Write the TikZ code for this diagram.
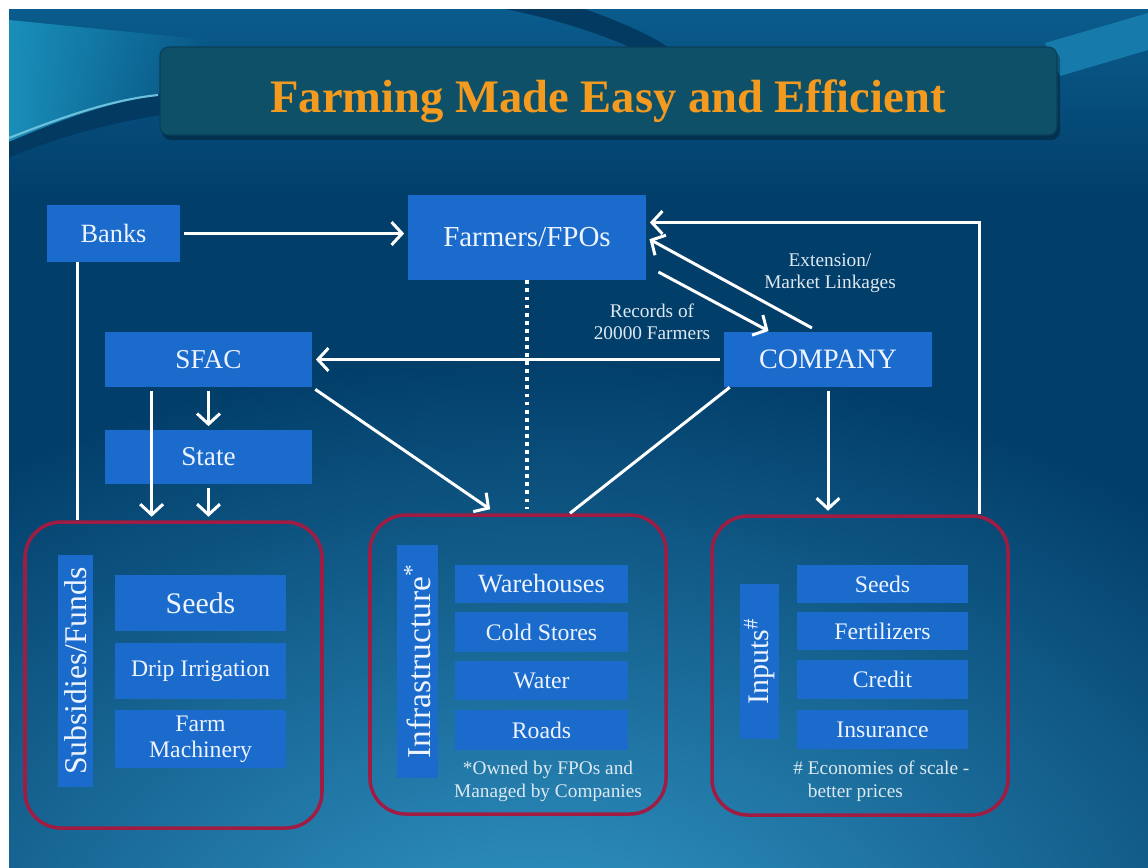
\documentclass[tikz,border=0pt]{standalone}
\usepackage{fontspec}
\setmainfont{Liberation Serif}
\usetikzlibrary{arrows.meta,fit,calc,fadings}
\definecolor{bgdark}{HTML}{023E6A}
\definecolor{bgtop}{HTML}{0A5C8C}
\definecolor{bglight}{HTML}{3399C9}
\definecolor{boxblue}{HTML}{1A6BCC}
\definecolor{titlefill}{HTML}{0E5068}
\definecolor{titleedge}{HTML}{0A3F58}
\definecolor{grpred}{HTML}{A01C42}
\definecolor{txtw}{HTML}{EEF4FF}
\definecolor{lbl}{HTML}{DCE8F2}
\definecolor{orng}{HTML}{F39A1F}
\definecolor{cyanlt}{HTML}{1A8FBA}
\definecolor{stripe}{HTML}{167AAB}
\definecolor{swoosh}{HTML}{033A62}
\definecolor{lineglow}{HTML}{6CC0DC}
% box by corners: name, x1, y1, x2, y2, font, text
\newcommand\cornerbox[7]{\node[blk, minimum width={0.02cm*(#4-#2)}, minimum height={0.02cm*(#5-#3)}, font=#6] (#1) at ({(#2+#4)/2},{(#3+#5)/2}) {#7};}
\newcommand\fsz[1]{\fontsize{#1}{#1}\selectfont}
\begin{document}
\begin{tikzpicture}[x=0.02cm,y=-0.02cm,
  blk/.style={fill=boxblue, inner sep=0pt, text=txtw, align=center},
  grp/.style={draw=grpred, line width=2pt, rounded corners=0.72cm, inner sep=0pt},
  vtxt/.style={rotate=90, text=txtw, inner sep=0pt},
  lbltxt/.style={text=lbl, align=center, font=\fontsize{11}{12.5}\selectfont, inner sep=0pt},
  tip/.style={-{Straight Barb[length=6pt,width=13pt]}},
  arr/.style={draw=white, line width=1.7pt, shorten <=2pt, shorten >=2pt, tip},
  ln/.style={draw=white, line width=1.7pt},
  dotln/.style={draw=white, line width=2.2pt, dash pattern=on 2.2pt off 2.4pt},
]
\useasboundingbox (0,0) rectangle (1148,867);
\fill[white] (0,0) rectangle (1148,867);
% background
\begin{scope}
\clip (9,9) rectangle (1148,867);
\fill[bgdark] (9,9) rectangle (1148,867);
\shade[inner color=bglight, outer color=bgdark] (540,980) ellipse (19cm and 12.5cm);
\shade[top color=bgtop, bottom color=bgdark] (9,9) rectangle (1148,200);
\fill[cyanlt, path fading=east] (9,20) -- (210,40) -- (210,80) .. controls (130,100) and (60,120) .. (9,142) -- cycle;
\fill[swoosh] (9,142) .. controls (60,120) and (110,102) .. (160,95) -- (160,115) .. controls (100,125) and (50,140) .. (9,158) -- cycle;
\draw[lineglow, line width=1.2pt] (9,138) .. controls (60,118) and (110,100) .. (158,95);
\fill[stripe] (1045,43) -- (1148,13) -- (1148,50) -- (1060,76) -- cycle;
\fill[swoosh] (505,9) -- (585,9) .. controls (615,20) and (645,32) .. (668,47) -- (630,47) .. controls (590,30) and (550,18) .. (505,9) -- cycle;
\end{scope}
% title
\fill[black, opacity=0.3, rounded corners=5pt] (162,51) rectangle (1060,140);
\node[fill=titlefill, draw=titleedge, line width=0.6pt, rounded corners=5pt, inner sep=0pt, fit={(160,47)(1057,135)}] (title) {};
\node[text=orng, anchor=base, inner sep=0pt, font=\fontsize{26.5}{30}\selectfont\bfseries] (titletxt) at (608,112) {Farming Made Easy and Efficient};
% top boxes
\cornerbox{banks}{47}{205}{180}{262}{\fsz{15}}{Banks}
\cornerbox{farmers}{408}{195}{646}{280}{\fsz{16.5}}{Farmers/FPOs}
\cornerbox{sfac}{105}{332}{312}{387}{\fsz{15.5}}{SFAC}
\cornerbox{state}{105}{430}{312}{484}{\fsz{15.5}}{State}
\cornerbox{company}{724}{332}{932}{387}{\fsz{16}}{COMPANY}
% groups
\node[grp, fit={(25,522)(322,828)}] (grpL) {};
\node[grp, fit={(370,515)(666,814)}] (grpM) {};
\node[grp, fit={(712,516)(1008,815)}] (grpR) {};
% left group
\cornerbox{subbar}{58}{555}{93}{787}{\fsz{18}}{}
\node[vtxt, font=\fsz{18}] (subtxt) at (subbar) {Subsidies/Funds};
\cornerbox{seedsL}{115}{575}{286}{631}{\fsz{17}}{Seeds}
\cornerbox{drip}{115}{643}{286}{699}{\fsz{13.5}}{Drip Irrigation}
\cornerbox{mach}{115}{710}{286}{768}{\fontsize{13.5}{15}\selectfont}{Farm\\Machinery}
% middle group
\cornerbox{infbar}{397}{545}{438}{778}{\fsz{19}}{}
\node[vtxt, font=\fsz{19}] (inftxt) at (infbar) {Infrastructure\textsuperscript{*}};
\cornerbox{wh}{455}{565}{628}{603}{\fsz{15}}{Warehouses}
\cornerbox{cold}{455}{612}{628}{652}{\fsz{13.5}}{Cold Stores}
\cornerbox{water}{455}{661}{628}{700}{\fsz{13.5}}{Water}
\cornerbox{roads}{455}{710}{628}{750}{\fsz{13.5}}{Roads}
\node[lbltxt, font=\fontsize{11}{13}\selectfont] (note1) at (548,781) {*Owned by FPOs and\\Managed by Companies};
% right group
\cornerbox{inpbar}{740}{584}{779}{739}{\fsz{17}}{}
\node[vtxt, font=\fsz{17}] (inptxt) at (inpbar) {Inputs\textsuperscript{\#}};
\cornerbox{seedsR}{797}{565}{968}{603}{\fsz{13.5}}{Seeds}
\cornerbox{fert}{797}{612}{968}{650}{\fsz{13.5}}{Fertilizers}
\cornerbox{credit}{797}{660}{968}{699}{\fsz{13.5}}{Credit}
\cornerbox{ins}{797}{710}{968}{749}{\fsz{13.5}}{Insurance}
\node[lbltxt, align=left, anchor=north west, font=\fontsize{11}{13}\selectfont] (note2) at (793,761) {\# Economies of scale -\\\phantom{\# }better prices};
% labels on links
\node[lbltxt] (reclbl) at (652,322) {Records of\\20000 Farmers};
\node[lbltxt] (extlbl) at (830,273) {Extension/\\Market Linkages};
% coordinates
\coordinate (bk) at ($(banks.south west)+(31,0)$);
\coordinate (sfl) at ($(sfac.south west)+(47,0)$);
\coordinate (rloop) at ($(grpR.north east)+(-30,0)$);
\coordinate (fr) at ($(farmers.east)+(0,-15)$);
\coordinate (f2c) at ($(farmers.south east)+(9,-10)$);
\coordinate (cin) at ($(company.north west)+(48,1)$);
\coordinate (cout) at ($(company.north)+(-13,-2)$);
\coordinate (cml) at ($(company.south west)+(6,0)$);
\coordinate (gmr) at ($(grpM.north)+(52,0)$);
\coordinate (gml) at ($(grpM.north)+(-25,-2)$);
% connectors
\draw[arr] (banks.east) -- (banks.east -| farmers.west);
\draw[ln] (bk) -- (bk |- grpL.north);
\draw[dotln] (farmers.south) -- ($(farmers.south |- grpM.north)+(0,-4)$);
\draw[arr] (f2c) -- (cin);
\draw[arr] (cout) -- (farmers.east);
\draw[arr] (company.west) -- (sfac.east);
\draw[ln, tip, shorten >=2pt] (rloop) |- (fr);
\draw[arr] (company.south) -- (company.south |- grpR.north);
\draw[ln] (cml) -- (gmr);
\draw[arr] (sfac.south east) -- (gml);
\draw[arr] (sfac.south) -- (state.north);
\draw[arr] (sfl) -- (sfl |- grpL.north);
\draw[arr] (state.south) -- (state.south |- grpL.north);
\end{tikzpicture}
\end{document}
